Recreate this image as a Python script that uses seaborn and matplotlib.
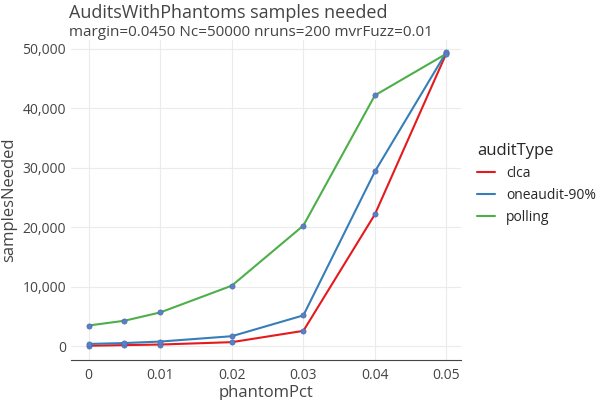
import matplotlib
matplotlib.use("Agg")
import matplotlib.pyplot as plt
import seaborn as sns
import pandas as pd
from matplotlib.ticker import FuncFormatter

phantomPct = [0, 0.005, 0.01, 0.02, 0.03, 0.04, 0.05]
clca = [100, 200, 300, 700, 2600, 22200, 49300]
oneaudit = [400, 550, 800, 1700, 5200, 29400, 49500]
polling = [3500, 4300, 5700, 10200, 20300, 42200, 49200]

rows = []
for name, vals in [("clca", clca), ("oneaudit-90%", oneaudit), ("polling", polling)]:
    for x, v in zip(phantomPct, vals):
        rows.append({"phantomPct": x, "samplesNeeded": v, "auditType": name})
df = pd.DataFrame(rows)

sns.set_style("white")
plt.rcParams['font.family'] = ['Open Sans', 'DejaVu Sans']
fig = plt.figure(figsize=(6, 4), dpi=100)
ax = fig.add_axes([0.118, 0.1, 0.65, 0.8])
pal = {"clca": "#e41a1c", "oneaudit-90%": "#377eb8", "polling": "#4daf4a"}
sns.lineplot(data=df, x="phantomPct", y="samplesNeeded", hue="auditType",
             palette=pal, ax=ax, linewidth=1.5)
ax.scatter(df["phantomPct"], df["samplesNeeded"], s=14, color="#5b7fc7", zorder=5,
           edgecolor="#4a6fb0", linewidth=0.5)
ax.set_xlim(-0.0025, 0.052)
ax.set_ylim(-2300, 51500)
ax.set_xticks([0, 0.01, 0.02, 0.03, 0.04, 0.05])
ax.set_xticklabels(["0", "0.01", "0.02", "0.03", "0.04", "0.05"])
ax.set_yticks([0, 10000, 20000, 30000, 40000, 50000])
ax.yaxis.set_major_formatter(FuncFormatter(lambda v, p: f"{int(v):,}"))
ax.grid(True, color="#ebebeb", linewidth=0.8)
for s in ["top", "right", "left"]:
    ax.spines[s].set_visible(False)
ax.spines["bottom"].set_color("#444444")
ax.tick_params(axis="x", length=4, pad=2, color="#444444", labelsize=10, colors="#444444")
ax.tick_params(axis="y", length=0, labelsize=10, colors="#444444")
ax.set_xlabel("phantomPct", fontsize=12, color="#444444", labelpad=1)
ax.set_ylabel("samplesNeeded", fontsize=12, color="#444444", labelpad=4)
leg = ax.legend(title="auditType", loc="center left", bbox_to_anchor=(1.01, 0.55),
                frameon=False, fontsize=10, title_fontsize=12, handlelength=1.3)
leg._legend_box.align = "left"
fig.text(0.115, 0.955, "AuditsWithPhantoms samples needed", fontsize=13, color="#444444")
fig.text(0.115, 0.91, "margin=0.0450 Nc=50000 nruns=200 mvrFuzz=0.01", fontsize=11, color="#444444")
fig.savefig("out.png", dpi=100)
